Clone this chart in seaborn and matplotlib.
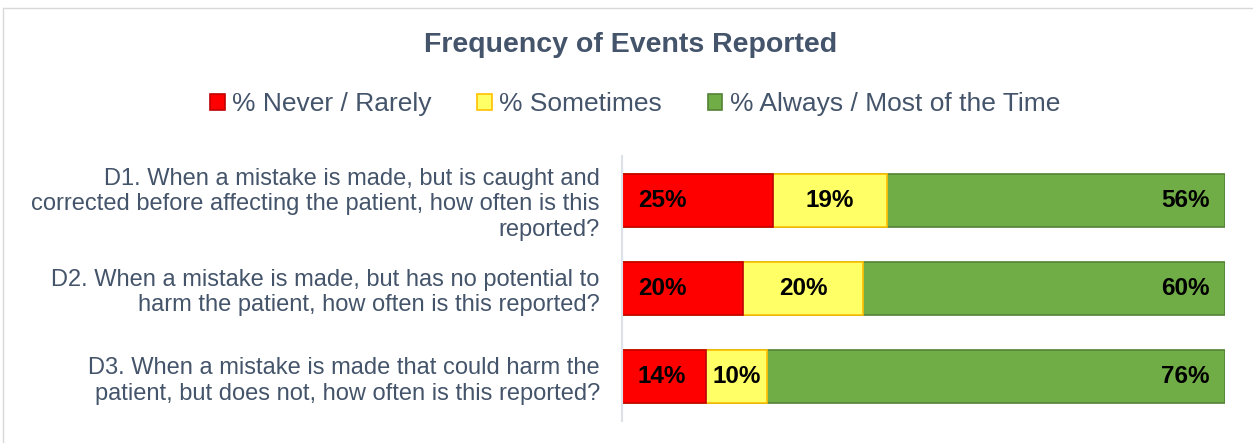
import matplotlib.pyplot as plt
import matplotlib.patches as mpatches
import pandas as pd
import seaborn as sns

questions = [
    "D1. When a mistake is made, but is caught and\ncorrected before affecting the patient, how often is this\nreported?",
    "D2. When a mistake is made, but has no potential to\nharm the patient, how often is this reported?",
    "D3. When a mistake is made that could harm the\npatient, but does not, how often is this reported?",
]
never_rarely = [25, 20, 14]
sometimes = [19, 20, 10]
always_most = [56, 60, 76]

series_names = ["% Never / Rarely", "% Sometimes", "% Always / Most of the Time"]
fill_colors = ["#FF0000", "#FFFF66", "#70AD47"]
edge_colors = ["#C00000", "#FFC000", "#548235"]
text_color = "#44546A"

sns.set_style("white")
plt.rcParams["font.family"] = ["Liberation Sans", "DejaVu Sans"]

df = pd.DataFrame({
    "question": questions,
    "never": never_rarely,
    "sometimes": sometimes,
    "always": always_most,
})
# cumulative ends for stacking
df["cum_never"] = df["never"]
df["cum_sometimes"] = df["never"] + df["sometimes"]
df["cum_always"] = df["cum_sometimes"] + df["always"]

fig = plt.figure(figsize=(12.53, 4.43), dpi=100)
ax = fig.add_axes([622 / 1253, 1 - 421 / 443, (1225 - 622) / 1253, (421 - 156) / 443])

# draw the longest first so shorter segments sit on top
for col, fc, ec in zip(["cum_always", "cum_sometimes", "cum_never"], fill_colors[::-1], edge_colors[::-1]):
    sns.barplot(data=df, x=col, y="question", orient="h", color=fc, edgecolor=ec,
                linewidth=1.2, width=0.6, saturation=1, ax=ax)

ax.set_xlim(0, 100)
ax.set_ylim(2.5, -0.5)
ax.set_xlabel("")
ax.set_ylabel("")
ax.set_xticks([])
for side in ["top", "right", "bottom"]:
    ax.spines[side].set_visible(False)
ax.spines["left"].set_color("#DDE1E8")
ax.spines["left"].set_linewidth(1.5)
ax.tick_params(axis="y", length=0, pad=16, labelcolor=text_color)
ax.set_yticks(range(len(questions)))
ax.set_yticklabels(questions, fontsize=17, color=text_color, linespacing=1.2)

# value labels
for i, row in df.iterrows():
    ax.annotate(f"{row['never']}%", (0, i), xytext=(11.5, 0), textcoords="offset points",
                ha="left", va="center", fontsize=17.5, fontweight="bold", color="black")
    ax.text((row["cum_never"] + row["cum_sometimes"]) / 2, i, f"{row['sometimes']}%",
            ha="center", va="center", fontsize=17.5, fontweight="bold", color="black")
    ax.annotate(f"{row['always']}%", (row["cum_always"], i), xytext=(-11, 0), textcoords="offset points",
                ha="right", va="center", fontsize=17.5, fontweight="bold", color="black")

fig.text(631 / 1253, 1 - 45 / 443, "Frequency of Events Reported", ha="center", va="center",
         fontsize=20.5, fontweight="bold", color=text_color)

handles = [mpatches.Patch(facecolor=fc, edgecolor=ec, linewidth=1.2) for fc, ec in zip(fill_colors, edge_colors)]
fig.legend(handles, series_names, loc="center", bbox_to_anchor=(635 / 1253, 1 - 104 / 443), ncol=3,
           frameon=False, fontsize=19, labelcolor=text_color, handlelength=0.55, handleheight=0.55,
           handletextpad=0.27, columnspacing=1.75)

# outer chart frame
fig.add_artist(plt.Line2D([3 / 1253, 1], [1 - 8 / 443, 1 - 8 / 443], color="#D9D9D9", lw=1, transform=fig.transFigure))
fig.add_artist(plt.Line2D([3 / 1253, 3 / 1253], [0, 1 - 8 / 443], color="#D9D9D9", lw=1, transform=fig.transFigure))

fig.savefig("out.png", dpi=100, facecolor="white")
